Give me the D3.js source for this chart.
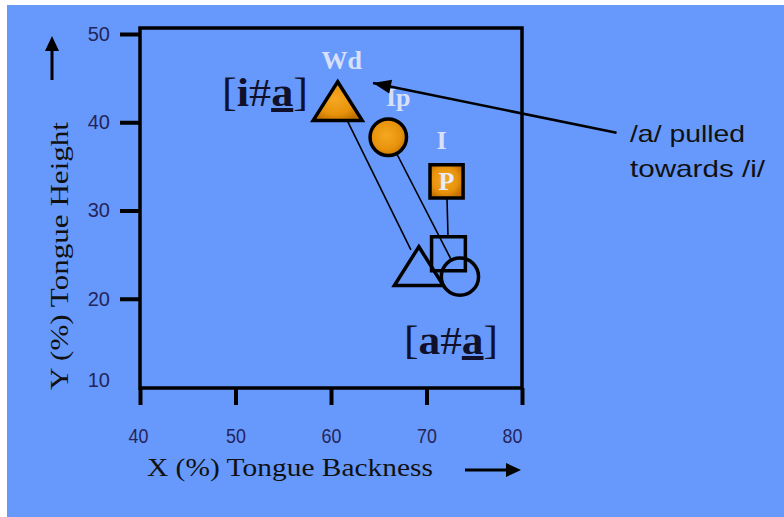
<!DOCTYPE html>
<html><head><meta charset="utf-8">
<script src="https://cdn.jsdelivr.net/npm/d3@7"></script>
<style>html,body{margin:0;padding:0;background:#fff;}svg{display:block;}</style>
</head><body>
<svg id="c" width="784" height="517"></svg>
<script>
// ---- data ----
const xTicks = [40, 50, 60, 70, 80];
const yTicks = [10, 20, 30, 40, 50];
const shapes = ["triangle", "circle", "square"];
const labels = ["Wd", "Ip", "I"];
const filledX = [60.7, 66.0, 72.1];   // [i#a]
const filledY = [42.4, 38.3, 33.3];
const openX = [69.2, 73.5, 72.3];     // [a#a]
const openY = [23.7, 22.5, 25.1];
const annotTail = [89.9, 38.8];
const annotTip = [64.4, 44.45];
const annotText = ["/a/ pulled", "towards /i/"];

const svg = d3.select("#c");
const x = d3.scaleLinear().domain([40, 80]).range([140, 522]);
const y = d3.scaleLinear().domain([10, 50]).range([387, 34]);

svg.append("rect").attr("x", 7).attr("y", 5).attr("width", 777).attr("height", 512).attr("fill", "#6799fc");

const defs = svg.append("defs");
const g = defs.append("radialGradient").attr("id", "og").attr("cx", "45%").attr("cy", "45%").attr("r", "60%");
g.append("stop").attr("offset", "0%").attr("stop-color", "#f6a820");
g.append("stop").attr("offset", "65%").attr("stop-color", "#e8920c");
g.append("stop").attr("offset", "100%").attr("stop-color", "#c07000");

// frame
svg.append("rect").attr("x", x(40)).attr("y", y(50) - 6).attr("width", x(80) - x(40)).attr("height", y(10) - y(50) + 7)
  .attr("fill", "none").attr("stroke", "#000").attr("stroke-width", 3.5);

// y axis
const ya = svg.append("g").attr("transform", `translate(${x(40)},0)`)
  .call(d3.axisLeft(y).tickValues(yTicks).tickSize(20).tickPadding(10).tickFormat(d3.format("d")));
ya.select(".domain").remove();
ya.selectAll(".tick line").attr("stroke", "#000").attr("stroke-width", 4).attr("display", d => d === 10 ? "none" : null);
ya.selectAll(".tick text").attr("font-family", "Liberation Sans, Arial, sans-serif").attr("font-size", 20)
  .attr("fill", "#24245a").attr("dy", d => d === 10 ? "-0.05em" : "0.32em");

// x axis
const xa = svg.append("g").attr("transform", `translate(0,${y(10) + 1})`)
  .call(d3.axisBottom(x).tickValues(xTicks).tickSize(17).tickPadding(23).tickFormat(d3.format("d")));
xa.select(".domain").remove();
xa.selectAll(".tick line").attr("stroke", "#000").attr("stroke-width", 4);
xa.selectAll(".tick text").attr("font-family", "Liberation Sans, Arial, sans-serif").attr("font-size", 21)
  .attr("fill", "#24245a").attr("transform", d => `translate(${d === 80 ? -10 : (d === 40 ? -2 : 0)},0) scale(0.85,1)`);

// axis titles
svg.append("text").attr("x", 290).attr("y", 476).attr("text-anchor", "middle")
  .attr("font-family", "Liberation Serif, Times New Roman, serif").attr("font-size", 26).attr("fill", "#111")
  .attr("textLength", 286).attr("lengthAdjust", "spacingAndGlyphs").text("X (%) Tongue Backness");
svg.append("text").attr("transform", "translate(68,256) rotate(-90)").attr("text-anchor", "middle")
  .attr("font-family", "Liberation Serif, Times New Roman, serif").attr("font-size", 26).attr("fill", "#111")
  .attr("textLength", 268).attr("lengthAdjust", "spacingAndGlyphs").text("Y (%) Tongue Height");
// axis direction arrows
svg.append("line").attr("x1", 465).attr("y1", 470).attr("x2", 510).attr("y2", 470)
  .attr("stroke", "#000").attr("stroke-width", 3);
svg.append("path").attr("d", "M506,463L521,470L506,477Z").attr("fill", "#000");
svg.append("line").attr("x1", 52).attr("y1", 80).attr("x2", 52).attr("y2", 48).attr("stroke", "#000").attr("stroke-width", 3);
svg.append("path").attr("d", "M45,51L52,36L59,51Z").attr("fill", "#000");

// shape path generator (bbox centred)
function shapePath(type, s) {
  if (type === "triangle") { const w = s * 1.0, h = s * 0.79; return `M0,${-h/2}L${w/2},${h/2}L${-w/2},${h/2}Z`; }
  if (type === "square") { const h = s * 0.345; return `M${-h},${-h}H${h}V${h}H${-h}Z`; }
  const r = s * 0.38; return `M${r},0A${r},${r} 0 1 1 ${-r},0A${r},${r} 0 1 1 ${r},0Z`;
}
const trim = {triangle: 18, circle: 19, square: 17};

// connecting lines
shapes.forEach((t, i) => {
  const x1 = x(filledX[i]), y1 = y(filledY[i]), x2 = x(openX[i]), y2 = y(openY[i]);
  const L = Math.hypot(x2 - x1, y2 - y1), k = (L - trim[t]) / L;
  svg.append("line").attr("x1", x1).attr("y1", y1).attr("x2", x1 + (x2 - x1) * k).attr("y2", y1 + (y2 - y1) * k)
    .attr("stroke", "#000").attr("stroke-width", 1.6);
});

// open markers
shapes.forEach((t, i) => {
  svg.append("path").attr("transform", `translate(${x(openX[i])},${y(openY[i])})`)
    .attr("d", shapePath(t, 49)).attr("fill", "none").attr("stroke", "#000").attr("stroke-width", 3.5);
});
// filled markers
shapes.forEach((t, i) => {
  svg.append("path").attr("transform", `translate(${x(filledX[i])},${y(filledY[i])})`)
    .attr("d", shapePath(t, t === "triangle" ? 49 : 48)).attr("fill", "url(#og)").attr("stroke", "#000").attr("stroke-width", 3.5);
});

// point labels
const lblFont = "Liberation Serif, Times New Roman, serif";
const lblDx = [4, 10, -5], lblDy = [-32, -31, -32];
labels.forEach((l, i) => {
  svg.append("text").attr("x", x(filledX[i]) + lblDx[i]).attr("y", y(filledY[i]) + lblDy[i]).attr("text-anchor", "middle")
    .attr("font-family", lblFont).attr("font-weight", "bold").attr("font-size", 26).attr("fill", "#d8e0f8").text(l);
});
svg.append("text").attr("x", x(filledX[2])).attr("y", y(filledY[2]) + 9).attr("text-anchor", "middle")
  .attr("font-family", lblFont).attr("font-weight", "bold").attr("font-size", 26).attr("fill", "#e8ecfa").text("P");

// group labels
function groupLabel(xp, yp, first, len) {
  const t = svg.append("text").attr("x", xp).attr("y", yp).attr("font-family", lblFont).attr("font-size", 40)
    .attr("fill", "#10102a").attr("textLength", len).attr("lengthAdjust", "spacingAndGlyphs");
  t.append("tspan").text("[");
  t.append("tspan").attr("font-weight", "bold").text(first);
  t.append("tspan").text("#");
  t.append("tspan").attr("font-weight", "bold").attr("text-decoration", "underline").text("a");
  t.append("tspan").text("]");
}
groupLabel(222, 106, "i", 86);
groupLabel(404, 354, "a", 94);

// annotation
svg.append("line").attr("x1", x(annotTail[0])).attr("y1", y(annotTail[1])).attr("x2", x(annotTip[0])).attr("y2", y(annotTip[1]))
  .attr("stroke", "#000").attr("stroke-width", 2.5);
{
  const ax = x(annotTip[0]), ay = y(annotTip[1]), bx = x(annotTail[0]), by = y(annotTail[1]);
  const a = Math.atan2(ay - by, ax - bx);
  const hl = 18, hw = 7;
  const p = [[ax, ay],
    [ax - hl * Math.cos(a) + hw * Math.sin(a), ay - hl * Math.sin(a) - hw * Math.cos(a)],
    [ax - hl * Math.cos(a) - hw * Math.sin(a), ay - hl * Math.sin(a) + hw * Math.cos(a)]];
  svg.append("path").attr("d", "M" + p.join("L") + "Z").attr("fill", "#000");
}
annotText.forEach((s, i) => {
  svg.append("text").attr("x", 630).attr("y", 142 + i * 35).attr("font-family", "Liberation Sans, Arial, sans-serif")
    .attr("font-size", 24).attr("fill", "#111").attr("textLength", i === 0 ? 115 : 135)
    .attr("lengthAdjust", "spacingAndGlyphs").text(s);
});
</script>
</body></html>
